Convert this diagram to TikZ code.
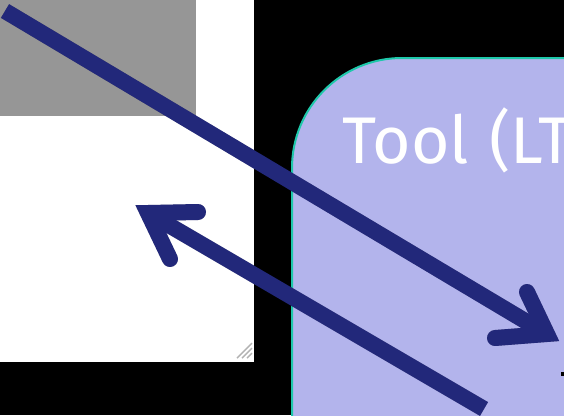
\documentclass[tikz,border=0pt]{standalone}
\usepackage{fontspec}
\setmainfont{Fira Sans}
\definecolor{arrowblue}{RGB}{34,40,122}
\definecolor{lav}{RGB}{179,180,236}
\definecolor{tealedge}{RGB}{30,200,170}
\definecolor{panelgray}{RGB}{150,150,150}
\tikzset{
  shaft/.style={line width=16pt, draw=arrowblue, line cap=butt},
  barbs/.style={line width=16pt, draw=arrowblue, line cap=round, line join=miter, miter limit=10},
  shadowline/.style={draw=black, opacity=0.22},
}
\begin{document}
\begin{tikzpicture}[x=1pt,y=-1pt]
\useasboundingbox (0,0) rectangle (564,415);
\clip (0,0) rectangle (564,415);
\fill[black] (0,0) rectangle (564,415);
% white window with gray header
\fill[white] (0,0) rectangle (254,362);
\fill[panelgray] (0,0) rectangle (196,116);
% resize grip
\foreach \d in {0,5,10}{
  \draw[gray!60, line width=1.4pt] (252,343+\d) -- (237+\d,358);
}
% tool panel
\draw[fill=lav, draw=tealedge, line width=2pt, rounded corners=110pt]
  (292,600) -- (292,58) -- (700,58) -- (700,600);
\node[anchor=base west, text=white, font=\fontsize{66}{70}\selectfont, inner sep=0pt] (title) at (342,163) {Tool\hspace{3pt} (LT};
\fill[black] (561,372) rectangle (564,376);
% arrow 1 coordinates
\coordinate (a1s) at (5,11);
\coordinate (a1v) at (547,334);
\coordinate (a1b1) at (527,292);
\coordinate (a1b2) at (495,338);
% arrow 2 coordinates
\coordinate (a2s) at (484,409);
\coordinate (a2v) at (148,213);
\coordinate (a2b1) at (198,212);
\coordinate (a2b2) at (170,259);
% shadows
\begin{scope}[shift={(2,3)}]
  \draw[shaft, shadowline] (a1s) -- (a1v);
  \draw[barbs, shadowline] (a1b1) -- (a1v) -- (a1b2);
  \draw[shaft, shadowline] (a2s) -- (a2v);
  \draw[barbs, shadowline] (a2b1) -- (a2v) -- (a2b2);
\end{scope}
% arrows
\draw[shaft] (a1s) -- (a1v);
\draw[barbs] (a1b1) -- (a1v) -- (a1b2);
\draw[shaft] (a2s) -- (a2v);
\draw[barbs] (a2b1) -- (a2v) -- (a2b2);
\end{tikzpicture}
\end{document}
